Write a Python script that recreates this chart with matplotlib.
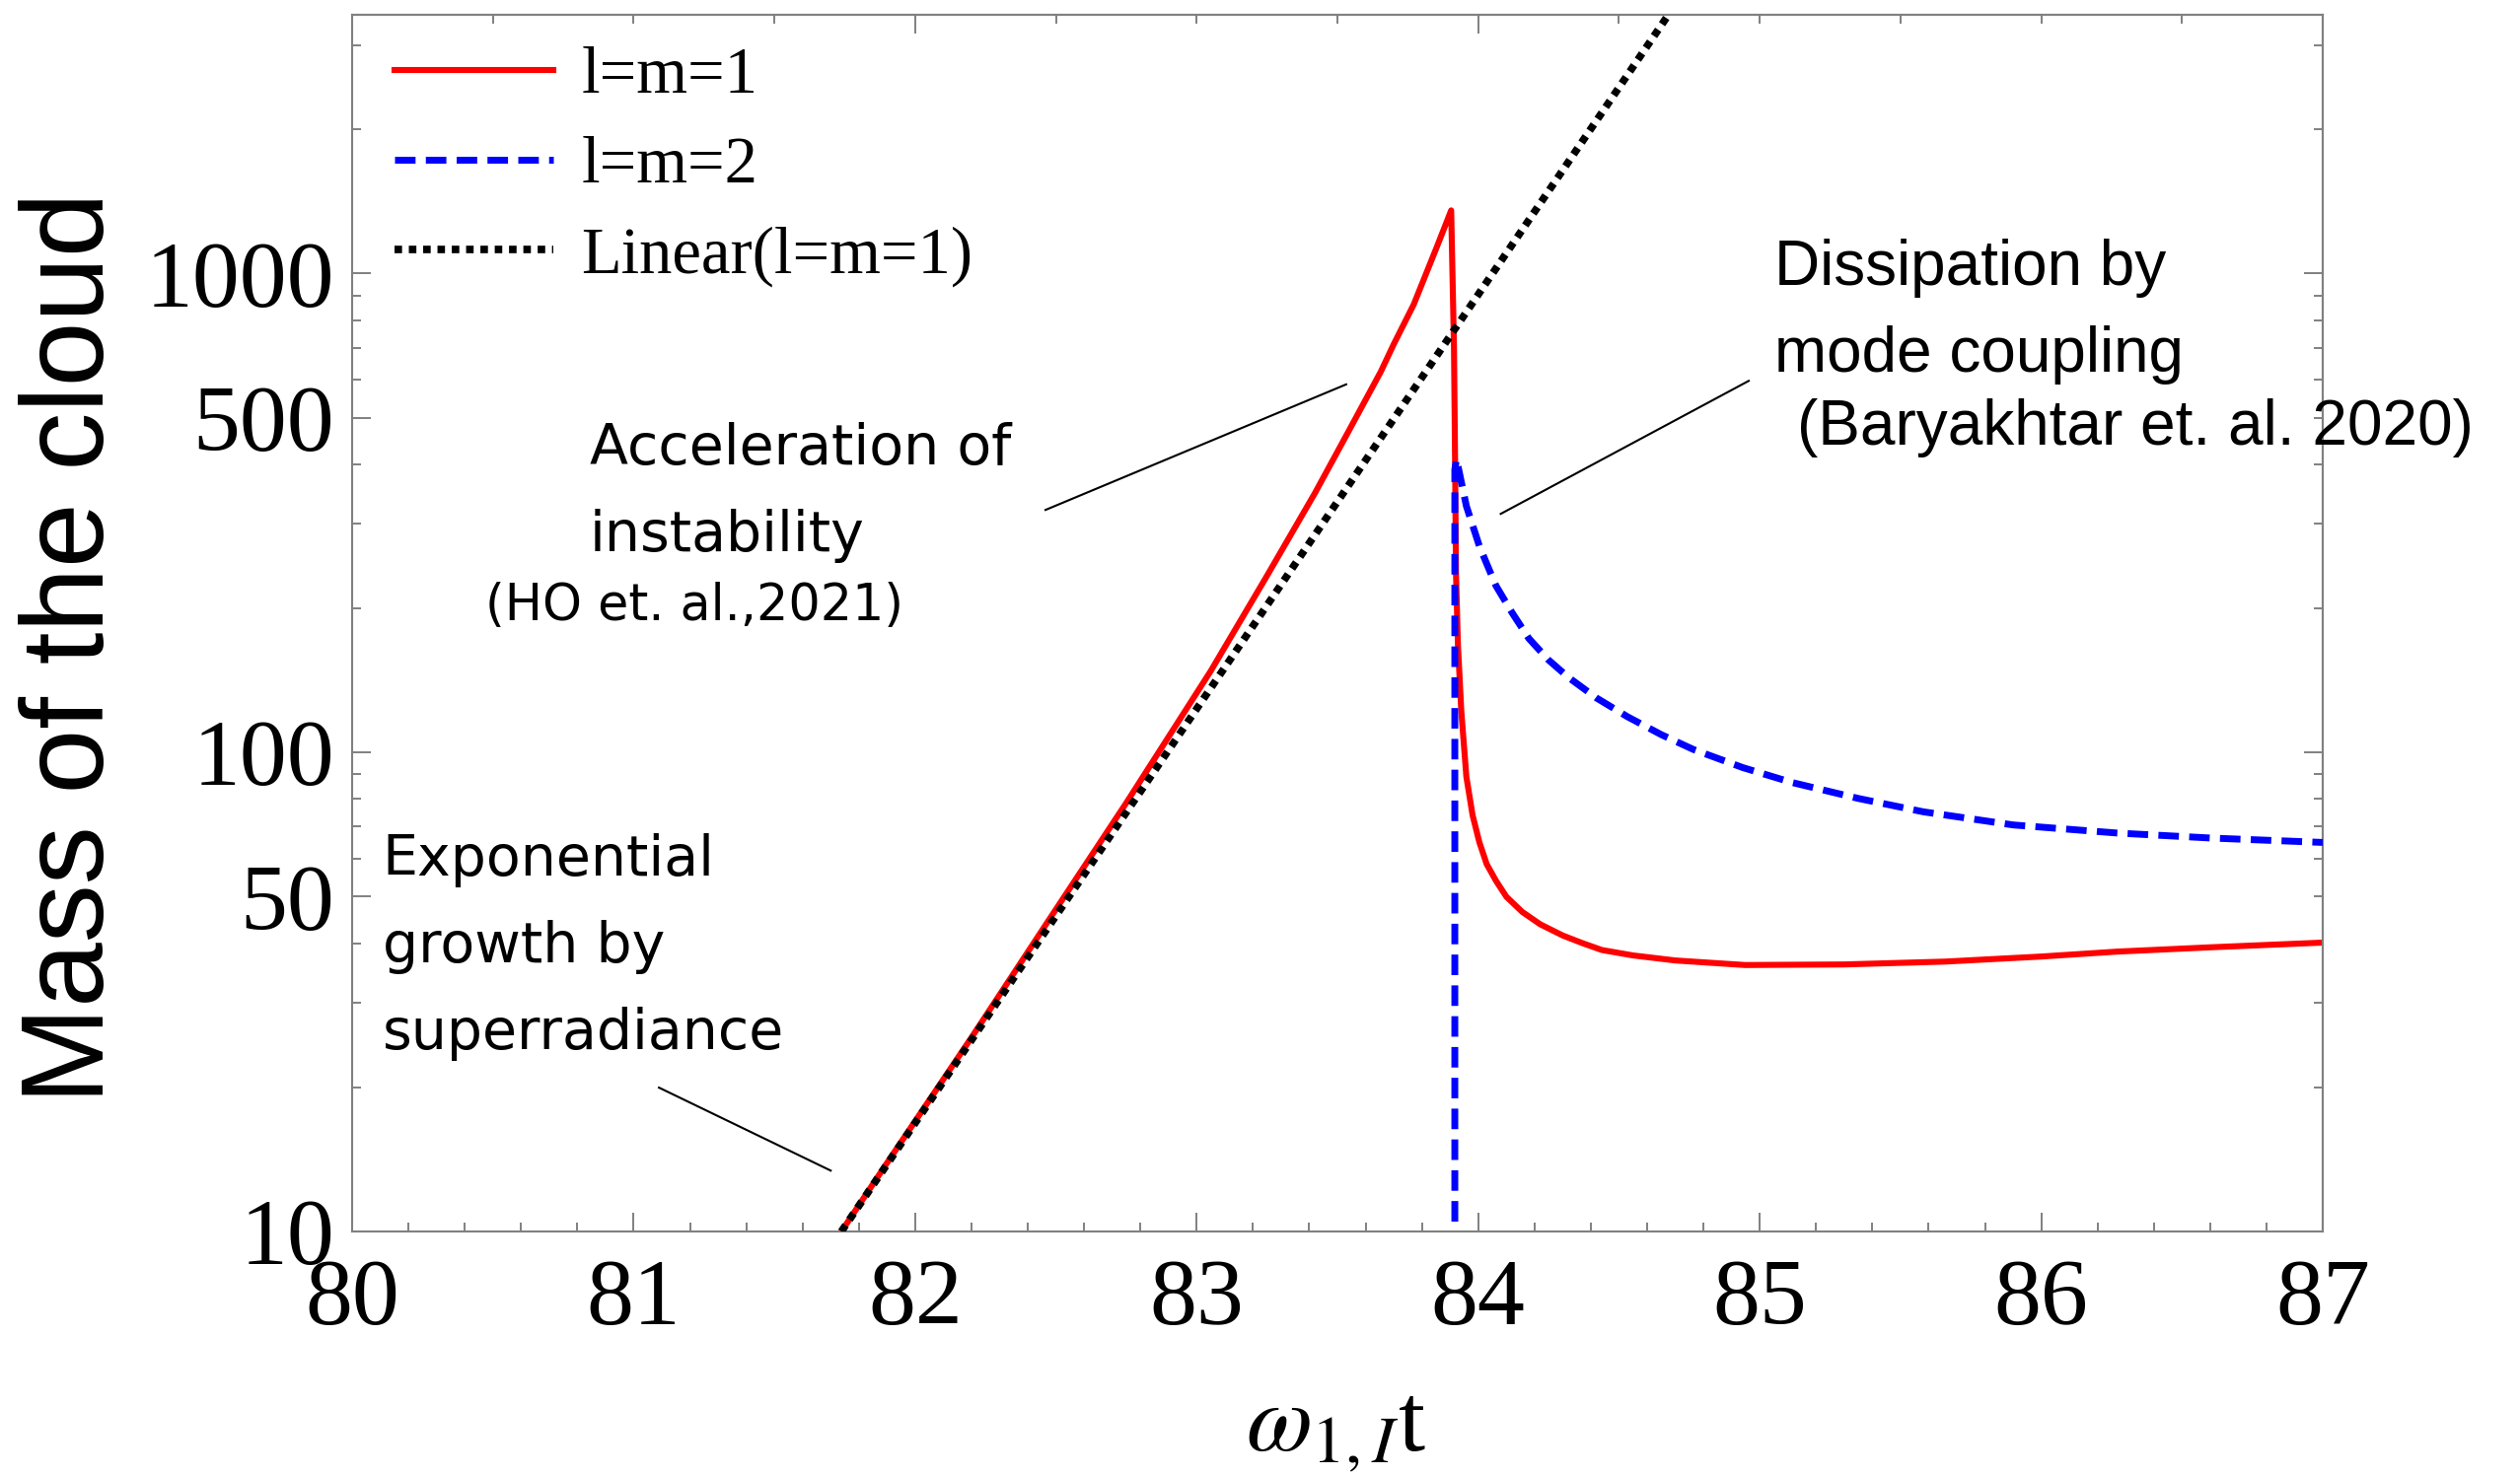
"""Mass of the superradiant cloud: l=m=1 growth, l=m=2 coupling and linear growth."""

import matplotlib

matplotlib.use("Agg")
import matplotlib.pyplot as plt
from matplotlib.ticker import FixedLocator, FixedFormatter, NullFormatter, MultipleLocator

plt.rcParams["mathtext.fontset"] = "stix"

# l=m=1 mode (red, solid)
red_t = [81.738, 81.90, 82.20, 82.475, 82.75, 83.05, 83.25, 83.42, 83.54,
         83.654, 83.70, 83.771, 83.85, 83.88, 83.904, 83.914, 83.918, 83.921,
         83.928, 83.940, 83.958, 83.980, 84.004, 84.030, 84.063, 84.10,
         84.156, 84.22, 84.30, 84.37, 84.439, 84.55, 84.70, 84.948, 85.30,
         85.659, 86.0, 86.270, 86.6, 87.0]
red_mass = [10.0, 13.9, 25.4, 44.7, 78.5, 148, 234, 348, 469,
            624, 712, 862, 1125, 1247, 1355, 700, 400, 238,
            168, 122, 89, 74, 65, 58.5, 54, 50,
            46.5, 43.8, 41.5, 40.0, 38.7, 37.7, 36.8, 36.0, 36.1,
            36.6, 37.5, 38.4, 39.2, 40.1]

# l=m=2 mode (blue, dashed)
blue_t = [83.917, 83.917, 83.923, 83.958, 84.004, 84.030, 84.063, 84.12,
          84.180, 84.25, 84.320, 84.42, 84.530, 84.65, 84.764, 84.94, 85.114,
          85.35, 85.581, 85.9, 86.270, 86.6, 87.0]
blue_mass = [5.0, 390, 410, 327, 270, 248, 223, 196,
             173, 156, 143.6, 130, 118.8, 109, 101.5, 93, 86.6,
             80.2, 75.2, 70.6, 67.9, 66.3, 64.9]

# linear (exponential) growth of l=m=1 (black, dotted)
lin_t = [81.738, 85.0]
lin_mass = [10.0, 6620.0]

x_ticks = [80, 81, 82, 83, 84, 85, 86, 87]
y_ticks = [10, 50, 100, 500, 1000]
y_tick_labels = ["10", "50", "100", "500", "1000"]
y_minor = [20, 30, 40, 60, 70, 80, 90, 200, 300, 400, 600, 700, 800, 900, 2000, 3000]
y_right_major = [10, 100, 1000]
y_right_minor = [20, 30, 40, 50, 60, 70, 80, 90, 200, 300, 400, 500, 600, 700,
                 800, 900, 2000, 3000]
top_major = [82, 84]

SERIF = "Liberation Serif"
SANS = "Liberation Sans"
FRAME = "#808080"


def main():
    fig = plt.figure(figsize=(25.55, 14.97), dpi=100)
    ax = fig.add_axes([0.13973, 0.16567, 0.78200, 0.82432])

    ax.plot(red_t, red_mass, color="red", lw=4.4, label="l=m=1", zorder=2)
    ax.plot(blue_t, blue_mass, color="blue", lw=5.0, dashes=(3, 1.5),
            label="l=m=2", zorder=3)
    ax.plot(lin_t, lin_mass, color="black", lw=5.5, dashes=(1, 0.9),
            label="Linear(l=m=1)", zorder=4)

    ax.set_yscale("log")
    ax.set_xlim(80, 87)
    ax.set_ylim(10, 3470)

    ax.xaxis.set_major_locator(FixedLocator(x_ticks))
    ax.xaxis.set_minor_locator(MultipleLocator(0.2))
    ax.yaxis.set_major_locator(FixedLocator(y_ticks))
    ax.yaxis.set_major_formatter(FixedFormatter(y_tick_labels))
    ax.yaxis.set_minor_locator(FixedLocator(y_minor))
    ax.yaxis.set_minor_formatter(NullFormatter())

    ax.tick_params(which="both", direction="in", color=FRAME, width=1.4,
                   top=False, right=False)
    ax.tick_params(which="major", length=13.5)
    ax.tick_params(which="minor", length=6.5)
    ax.tick_params(axis="x", which="major", labelsize=69, pad=20)
    ax.tick_params(axis="y", which="major", labelsize=69, pad=13)
    for lab in ax.get_xticklabels() + ax.get_yticklabels():
        lab.set_fontfamily(SERIF)

    top = ax.secondary_xaxis("top")
    top.xaxis.set_major_locator(FixedLocator(top_major))
    top.xaxis.set_minor_locator(MultipleLocator(0.5))
    top.tick_params(which="both", direction="in", color=FRAME, width=1.4,
                    labeltop=False)
    top.tick_params(which="major", length=13.5)
    top.tick_params(which="minor", length=6.5)

    right = ax.secondary_yaxis("right")
    right.yaxis.set_major_locator(FixedLocator(y_right_major))
    right.yaxis.set_minor_locator(FixedLocator(y_right_minor))
    right.yaxis.set_minor_formatter(NullFormatter())
    right.tick_params(which="both", direction="in", color=FRAME, width=1.4,
                      labelright=False)
    right.tick_params(which="major", length=13.5)
    right.tick_params(which="minor", length=6.5)

    for sp in list(ax.spines.values()) + [top.spines["top"], right.spines["right"]]:
        sp.set_color(FRAME)
        sp.set_linewidth(1.5)

    fig.text(0.0290, 0.561, "Mass of the cloud", rotation=90, ha="center",
             va="center", fontsize=85, family=SANS)
    fig.text(0.530, 0.018, r"$\omega_{1,I}$t", ha="center", va="baseline",
             fontsize=70, family=SERIF)

    ax.legend(loc="upper left", bbox_to_anchor=(0.0215, 0.974), frameon=False,
              prop={"family": SERIF, "size": 48}, handlelength=2.42,
              handletextpad=0.42, labelspacing=0.45, borderaxespad=0,
              borderpad=0)

    # annotations
    wide = "DejaVu Sans"
    ax.text(80.844, 399, "Acceleration of", fontsize=41, family=wide, va="baseline")
    ax.text(80.844, 263, "instability", fontsize=41, family=wide, va="baseline")
    ax.text(80.473, 189, "(HO et. al.,2021)", fontsize=36.5, family=wide, va="baseline")
    ax.text(80.108, 55.3, "Exponential", fontsize=41, family=wide, va="baseline")
    ax.text(80.108, 36.5, "growth by", fontsize=41, family=wide, va="baseline")
    ax.text(80.108, 24.0, "superradiance", fontsize=41, family=wide, va="baseline")

    ax.text(85.052, 948, "Dissipation by", fontsize=46, family=SANS, va="baseline")
    ax.text(85.052, 625, "mode coupling", fontsize=46, family=SANS, va="baseline")
    ax.text(85.132, 440, "(Baryakhtar et. al. 2020)", fontsize=46,
            family=SANS, va="baseline", clip_on=False)

    ax.plot([82.463, 83.531], [321, 587], color="black", lw=1.5, zorder=1)
    ax.plot([84.080, 84.961], [315, 597], color="black", lw=1.5, zorder=1)
    ax.plot([81.090, 81.700], [19.97, 13.4], color="black", lw=1.5, zorder=1)

    fig.savefig("out.png", dpi=100)


if __name__ == "__main__":
    main()
